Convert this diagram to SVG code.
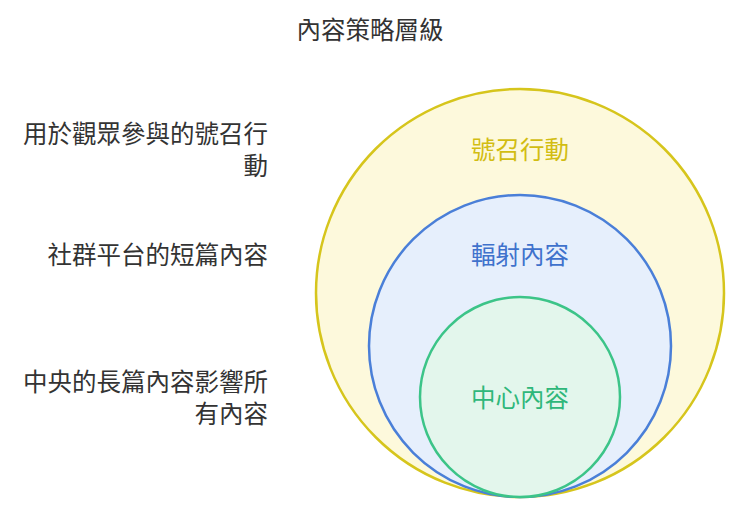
<svg xmlns="http://www.w3.org/2000/svg" width="740" height="514" viewBox="0 0 740 514">
<style>
text{font-family:"Noto Sans CJK TC","Noto Sans CJK SC",sans-serif;font-size:24.5px}
.l{text-anchor:end;fill:#333}
.c{text-anchor:middle}
</style>
<rect width="740" height="514" fill="#fff"/>
<text x="370" y="39" class="c" fill="#333">內容策略層級</text>
<g id="outer"><circle cx="520" cy="293" r="204" fill="#fdf9dc" stroke="#d6c51c" stroke-width="2.5"/>
<text x="520" y="159" class="c" fill="#d2bd12">號召行動</text></g>
<g id="middle"><circle cx="520" cy="346" r="151" fill="#e6effc" stroke="#4a7fd8" stroke-width="2.5"/>
<text x="520" y="264" class="c" fill="#3f72cc">輻射內容</text></g>
<g id="inner"><circle cx="520" cy="397" r="100" fill="#e3f6ec" stroke="#3cc488" stroke-width="2.5"/>
<text x="520" y="407" class="c" fill="#2fb77a">中心內容</text></g>
<g id="labels">
<text x="268" y="143" class="l">用於觀眾參與的號召行</text>
<text x="268" y="175" class="l">動</text>
<text x="268" y="264" class="l">社群平台的短篇內容</text>
<text x="268" y="391" class="l">中央的長篇內容影響所</text>
<text x="268" y="423" class="l">有內容</text>
</g>
<g id="connectors"/>
</svg>
